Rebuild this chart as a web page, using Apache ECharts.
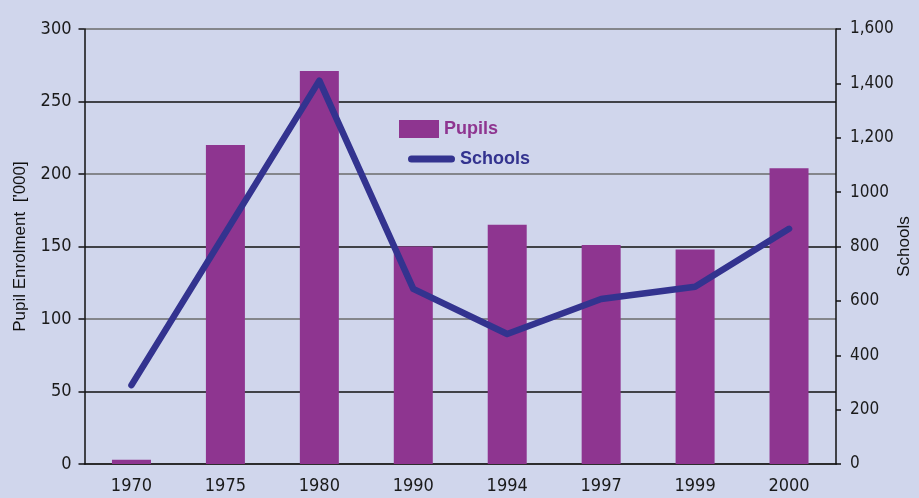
<!DOCTYPE html>
<html>
<head>
<meta charset="utf-8">
<script src="https://cdn.jsdelivr.net/npm/echarts@6/dist/echarts.min.js"></script>
<style>
  html, body { margin: 0; padding: 0; background: #d0d6ec; }
  #chart { width: 919px; height: 498px; }
</style>
</head>
<body>
<div id="chart"></div>
<script>
// chart data
const years = ['1970', '1975', '1980', '1990', '1994', '1997', '1999', '2000']
const pupils = [3, 220, 271, 150, 165, 151, 148, 204]
const schools = [290, 850, 1410, 644, 478, 607, 652, 865]
const schoolTickLabels = ['0', '200', '400', '600', '800', '1000', '1,200', '1,400', '1,600']

const font = "'Liberation Sans Narrow', 'DejaVu Sans Condensed', sans-serif"
const purple = '#8e3590'
const navy = '#33338f'

const chart = echarts.init(document.getElementById('chart'))
chart.setOption({
  backgroundColor: '#d0d6ec',
  textStyle: { fontFamily: font },
  grid: { left: 84.5, right: 83, top: 29, bottom: 34, outerBoundsMode: 'none', containLabel: false },
  legend: [
    {
      data: ['Pupils'],
      left: 394, top: 115,
      icon: 'rect',
      itemWidth: 40, itemHeight: 18,
      textStyle: { color: purple, fontWeight: 'bold', fontSize: 18, fontFamily: 'Liberation Sans, sans-serif' }
    },
    {
      data: ['Schools'],
      left: 403, top: 145,
      icon: 'path://M3.5,0 L43.5,0 A3.5,3.5 0 0 1 43.5,7 L3.5,7 A3.5,3.5 0 0 1 3.5,0 Z',
      itemWidth: 47, itemHeight: 7,
      textStyle: { color: navy, fontWeight: 'bold', fontSize: 18, fontFamily: 'Liberation Sans, sans-serif' }
    }
  ],
  xAxis: {
    type: 'category',
    data: years,
    axisLine: { lineStyle: { color: '#111', width: 1.5 } },
    axisTick: { length: 6, lineStyle: { color: '#111', width: 1.5 } },
    axisLabel: { color: '#1a1a1a', fontSize: 18, margin: 13 }
  },
  yAxis: [
    {
      type: 'value',
      min: 0, max: 300, interval: 50,
      name: "Pupil Enrolment  ['000]",
      nameLocation: 'middle',
      nameRotate: 90,
      nameGap: 56,
      nameMoveOverlap: false,
      nameTextStyle: { color: '#111', fontSize: 17, fontFamily: 'Liberation Sans, sans-serif' },
      axisLine: { show: true, lineStyle: { color: '#111', width: 1.5 } },
      axisTick: { show: true, length: 6, lineStyle: { color: '#111', width: 1.5 } },
      axisLabel: { color: '#1a1a1a', fontSize: 18, margin: 13 },
      splitLine: { lineStyle: { color: ['#6b6b6b', '#111'], width: 1.5 } }
    },
    {
      type: 'value',
      min: 0, max: 1600, interval: 200,
      name: 'Schools',
      nameLocation: 'middle',
      nameRotate: 90,
      nameGap: 60,
      nameMoveOverlap: false,
      nameTextStyle: { color: '#111', fontSize: 17, fontFamily: 'Liberation Sans, sans-serif' },
      axisLine: { show: true, lineStyle: { color: '#111', width: 1.5 } },
      axisTick: { show: true, length: 5, lineStyle: { color: '#111', width: 1.5 } },
      axisLabel: {
        color: '#1a1a1a', fontSize: 17, margin: 14,
        formatter: (v) => schoolTickLabels[Math.round(v / 200)]
      },
      splitLine: { show: false }
    }
  ],
  series: [
    {
      name: 'Pupils',
      type: 'bar',
      data: pupils,
      barWidth: 39,
      itemStyle: { color: purple }
    },
    {
      name: 'Schools',
      type: 'line',
      yAxisIndex: 1,
      data: schools,
      symbol: 'none',
      lineStyle: { color: navy, width: 6.5, cap: 'round', join: 'round' },
      itemStyle: { color: navy }
    }
  ]
})
</script>
</body>
</html>
